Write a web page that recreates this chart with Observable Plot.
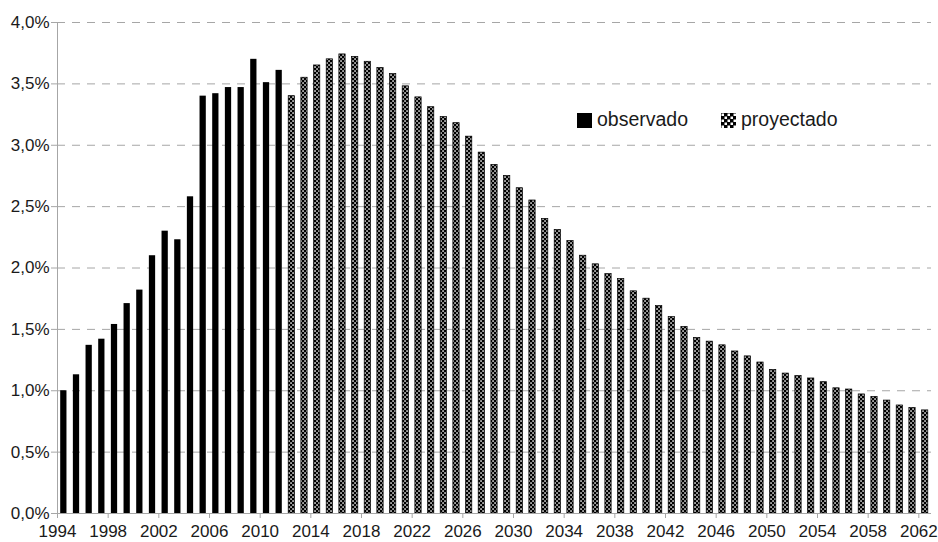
<!DOCTYPE html>
<html>
<head>
<meta charset="utf-8">
<script src="https://cdn.jsdelivr.net/npm/d3@7"></script>
<script src="https://cdn.jsdelivr.net/npm/@observablehq/plot@0.6"></script>
<style>
  body { margin: 0; background: #fff; }
  #wrap { position: relative; width: 938px; height: 542px; font-family: "Liberation Sans", Arial, sans-serif; }
  .lg { position: absolute; font-size: 19.5px; line-height: 19.5px; color: #1a1a1a; white-space: nowrap; }
  .sw { position: absolute; width: 15px; height: 15px; }
</style>
</head>
<body>
<div id="wrap"></div>
<script>
// ---- data ----
const observedYears = [1994,1995,1996,1997,1998,1999,2000,2001,2002,2003,2004,2005,2006,2007,2008,2009,2010,2011];
const observedValues = [1.00,1.13,1.37,1.42,1.54,1.71,1.82,2.10,2.30,2.23,2.58,3.40,3.42,3.47,3.47,3.70,3.51,3.61];
const projectedYears = [2012,2013,2014,2015,2016,2017,2018,2019,2020,2021,2022,2023,2024,2025,2026,2027,2028,2029,2030,2031,2032,2033,2034,2035,2036,2037,2038,2039,2040,2041,2042,2043,2044,2045,2046,2047,2048,2049,2050,2051,2052,2053,2054,2055,2056,2057,2058,2059,2060,2061,2062];
const projectedValues = [3.40,3.55,3.65,3.70,3.74,3.72,3.68,3.63,3.58,3.48,3.39,3.31,3.23,3.18,3.07,2.94,2.84,2.75,2.65,2.55,2.40,2.31,2.22,2.10,2.03,1.95,1.91,1.81,1.75,1.69,1.60,1.52,1.43,1.40,1.37,1.32,1.28,1.23,1.17,1.14,1.12,1.10,1.07,1.02,1.01,0.97,0.95,0.92,0.88,0.86,0.84];
const xTickYears = [1994,1998,2002,2006,2010,2014,2018,2022,2026,2030,2034,2038,2042,2046,2050,2054,2058,2062];
const yTicks = [0,0.5,1,1.5,2,2.5,3,3.5,4];
const seriesNames = ["observado", "proyectado"];

const data = [
  ...observedYears.map((y, i) => ({year: y, value: observedValues[i], kind: seriesNames[0]})),
  ...projectedYears.map((y, i) => ({year: y, value: projectedValues[i], kind: seriesNames[1]}))
];

const gridColor = "#a6a6a6";
const textColor = "#1a1a1a";
const fmt = v => v.toFixed(1).replace(".", ",") + "%";

const patternDefs = () => {
  const defs = document.createElementNS("http://www.w3.org/2000/svg", "defs");
  defs.innerHTML = `<pattern id="proj" width="4" height="4" patternUnits="userSpaceOnUse">
      <rect width="4" height="4" fill="#000"/>
      <rect x="0.3" y="0.3" width="1.5" height="1.5" fill="#fff"/>
      <rect x="2.3" y="2.3" width="1.5" height="1.5" fill="#fff"/>
    </pattern>`;
  return defs;
};

const chart = Plot.plot({
  width: 938,
  height: 542,
  marginLeft: 57,
  marginRight: 7,
  marginTop: 22,
  marginBottom: 29,
  style: {fontFamily: '"Liberation Sans", Arial, sans-serif', fontSize: "17px", background: "#fff", color: textColor},
  x: {domain: [1994, 2063]},
  y: {domain: [0, 4]},
  marks: [
    patternDefs,
    Plot.gridY(yTicks.filter(t => t > 0), {stroke: gridColor, strokeOpacity: 1, strokeDasharray: "8,7"}),
    Plot.rectY(data, {
      x1: "year",
      x2: d => d.year + 1,
      y: "value",
      insetLeft: 3.2,
      insetRight: 3.2,
      fill: d => d.kind === seriesNames[0] ? "#000" : "url(#proj)",
      stroke: d => d.kind === seriesNames[0] ? "none" : "#000",
      strokeWidth: 0.7
    }),
    Plot.ruleY([0], {stroke: gridColor}),
    Plot.ruleX([1994], {stroke: gridColor}),
    Plot.axisX({ticks: xTickYears, tickFormat: d => String(d), tickSize: 5, tickPadding: 6, stroke: gridColor, fill: textColor, label: null}),
    Plot.axisY({ticks: yTicks, tickFormat: fmt, tickSize: 6, tickPadding: 2, stroke: gridColor, fill: textColor, label: null})
  ]
});

const wrap = document.getElementById("wrap");
wrap.appendChild(chart);

// legend
const legendHTML = `
  <div class="sw" style="left:577px;top:113px;background:#000"></div>
  <div class="lg" style="left:597px;top:110px">${seriesNames[0]}</div>
  <svg class="sw" style="left:721px;top:113px" width="15" height="15">
    <defs><pattern id="projLg" width="6" height="6" patternUnits="userSpaceOnUse">
      <rect width="6" height="6" fill="#000"/>
      <rect x="0.5" y="0.5" width="2.5" height="2.5" fill="#fff"/>
      <rect x="3.5" y="3.5" width="2.5" height="2.5" fill="#fff"/>
    </pattern></defs>
    <rect width="15" height="15" fill="url(#projLg)"/>
  </svg>
  <div class="lg" style="left:741px;top:110px">${seriesNames[1]}</div>`;
wrap.insertAdjacentHTML("beforeend", legendHTML);
</script>
</body>
</html>
